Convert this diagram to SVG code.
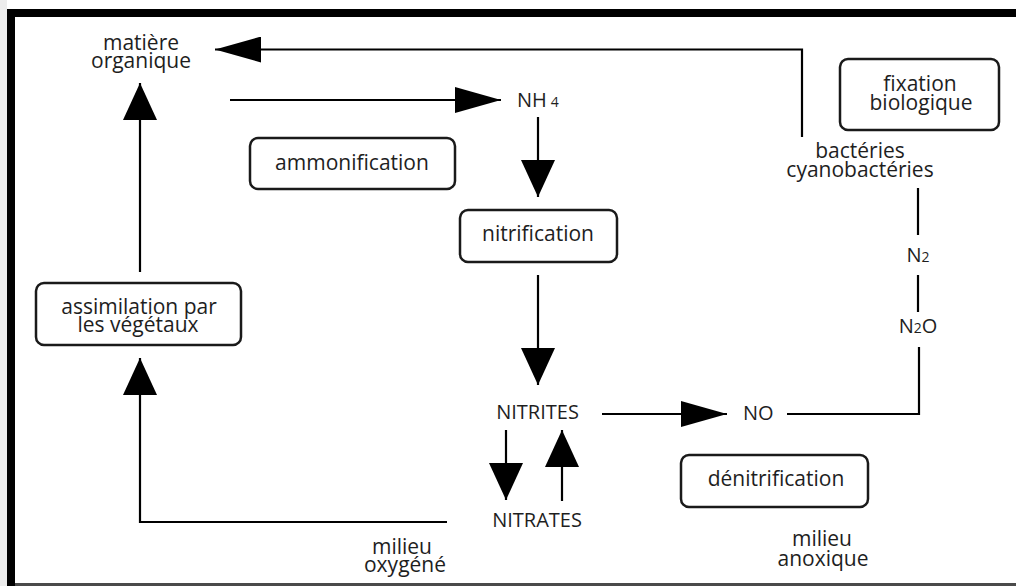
<svg xmlns="http://www.w3.org/2000/svg" width="1016" height="586" viewBox="0 0 1016 586">
<defs>
<style>
text{font-family:"Open Sans","Liberation Sans",sans-serif;font-size:21px;fill:#1e1e1e;text-anchor:middle}
.chem{font-size:20px}
.sub{font-size:14px}
.box{fill:#fff;stroke:#1a1a1a;stroke-width:2.5}
.ln{fill:none;stroke:#000;stroke-width:2.2}
</style>
<marker id="ah" markerUnits="userSpaceOnUse" markerWidth="46" markerHeight="26" refX="46" refY="13" orient="auto">
<path d="M0,0 L46,13 L0,26 Z" fill="#000"/>
</marker>
<marker id="av" markerUnits="userSpaceOnUse" markerWidth="37" markerHeight="34" refX="37" refY="17" orient="auto">
<path d="M0,0 L37,17 L0,34 Z" fill="#000"/>
</marker>
</defs>
<rect x="0" y="0" width="1016" height="586" fill="#fff"/>
<rect x="0" y="0" width="7" height="586" fill="#ececec"/>
<rect x="7" y="9" width="1009" height="8" fill="#000"/>
<rect x="7" y="9" width="8" height="577" fill="#000"/>
<rect x="15" y="583" width="1001" height="3" fill="#4a4a4a"/>

<g id="connectors">
<path class="ln" d="M802,137 V49.5 H215" marker-end="url(#ah)"/>
<path class="ln" d="M230,100 H501" marker-end="url(#ah)"/>
<path class="ln" d="M140,272 V83" marker-end="url(#av)"/>
<path class="ln" d="M447,522 H140 V358" marker-end="url(#av)"/>
<path class="ln" d="M538,117 V197" marker-end="url(#av)"/>
<path class="ln" d="M538,275 V385" marker-end="url(#av)"/>
<path class="ln" d="M506,430 V500" marker-end="url(#av)"/>
<path class="ln" d="M562,501 V430" marker-end="url(#av)"/>
<path class="ln" d="M602,414 H727" marker-end="url(#ah)"/>
<path class="ln" d="M787,414 H919 V347"/>
<path class="ln" d="M918,312 V275"/>
<path class="ln" d="M918,235 V188"/>
</g>

<g id="matiere">
<text x="141" y="50">matière</text>
<text x="141" y="68">organique</text>
</g>
<g id="ammonification">
<rect class="box" x="250" y="138" width="205" height="51" rx="8"/>
<text x="352" y="170">ammonification</text>
</g>
<g id="nh4">
<text class="chem" x="517" y="107" style="text-anchor:start">NH<tspan class="sub" dx="4">4</tspan></text>
</g>
<g id="nitrification">
<rect class="box" x="460" y="210" width="157" height="52" rx="8"/>
<text x="538" y="241">nitrification</text>
</g>
<g id="fixation">
<rect class="box" x="840" y="59" width="159" height="71" rx="8"/>
<text x="920" y="91">fixation</text>
<text x="921" y="110">biologique</text>
</g>
<g id="bacteries">
<text x="860" y="158">bactéries</text>
<text x="860" y="177">cyanobactéries</text>
</g>
<g id="n2">
<text class="chem" x="918" y="262">N<tspan class="sub">2</tspan></text>
</g>
<g id="n2o">
<text class="chem" x="918" y="333">N<tspan class="sub">2</tspan>O</text>
</g>
<g id="assimilation">
<rect class="box" x="36" y="283" width="205" height="62" rx="8"/>
<text x="139" y="314">assimilation par</text>
<text x="138" y="332">les végétaux</text>
</g>
<g id="nitrites">
<text class="chem" x="537.5" y="419">NITRITES</text>
</g>
<g id="no">
<text class="chem" x="743" y="420" style="text-anchor:start">NO</text>
</g>
<g id="nitrates">
<text class="chem" x="537" y="527">NITRATES</text>
</g>
<g id="denitrification">
<rect class="box" x="681" y="455" width="187" height="52" rx="8"/>
<text x="776" y="486">dénitrification</text>
</g>
<g id="oxygene">
<text x="402" y="554">milieu</text>
<text x="405" y="572">oxygéné</text>
</g>
<g id="anoxique">
<text x="822" y="546">milieu</text>
<text x="823" y="566">anoxique</text>
</g>
</svg>
